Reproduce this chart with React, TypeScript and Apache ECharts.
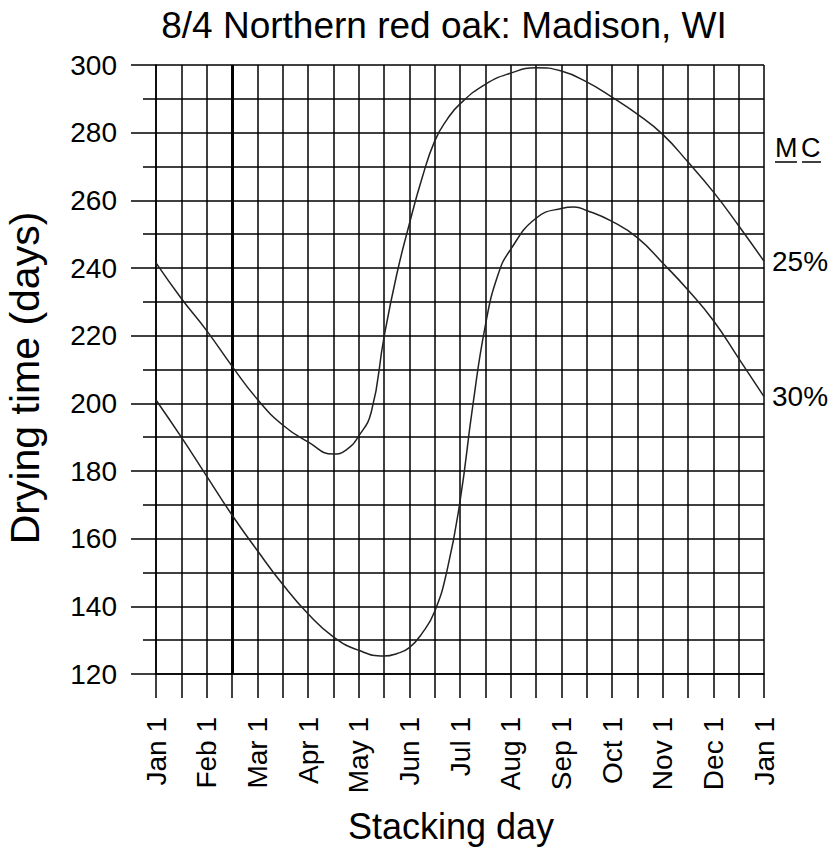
import React, { useEffect, useRef } from 'react';
import * as echarts from 'echarts';

const titleText = '8/4 Northern red oak: Madison, WI';
const xAxisTitle = 'Stacking day';
const yAxisTitle = 'Drying time (days)';
const monthLabels = ['Jan 1', 'Feb 1', 'Mar 1', 'Apr 1', 'May 1', 'Jun 1', 'Jul 1', 'Aug 1', 'Sep 1', 'Oct 1', 'Nov 1', 'Dec 1', 'Jan 1'];
const mcHeading = ['M', 'C'];
const seriesNames = ['25%', '30%'];
const markerMonth = 1.5;
const yMin = 120;
const yMax = 300;

// months elapsed since Jan 1 -> drying time (days)
const mc25Months = [0, 0.5, 1, 1.5, 2, 2.5, 3, 3.5, 3.75, 4, 4.25, 4.5, 4.75, 5, 5.25, 5.5, 5.75, 6, 6.5, 7, 7.5, 8, 8.5, 9, 9.5, 10, 10.5, 11, 11.5, 12];
const mc25Days = [241.5, 231, 221.5, 211, 201.2, 193.6, 188.6, 185, 186.2, 190.3, 197.5, 219.5, 238, 253, 266.5, 277.5, 284, 288.5, 294.3, 297.6, 299.2, 298.2, 295, 290.5, 285.5, 279.5, 271.3, 262.5, 252.5, 242];

const mc30Months = [0, 0.5, 1, 1.5, 2, 2.5, 3, 3.5, 4, 4.5, 4.75, 5, 5.25, 5.5, 5.75, 6, 6.25, 6.5, 6.75, 7, 7.5, 8, 8.25, 8.5, 9, 9.5, 10, 10.5, 11, 11.5, 12];
const mc30Days = [201, 190, 178.5, 167, 156.5, 146.5, 137.8, 131, 127, 125.3, 126, 127.8, 132, 138.5, 151, 171, 199, 223, 238, 245.5, 254.7, 257.6, 258, 257, 253.8, 249, 241.5, 233.5, 224.5, 213.3, 202];

const FONT = '"Liberation Sans", Arial, Helvetica, sans-serif';

export default function App() {
  const ref = useRef<HTMLDivElement>(null);

  useEffect(() => {
    document.body.style.margin = '0';
    if (!ref.current) return;
    const chart = echarts.init(ref.current, null, { renderer: 'svg' });

    const zip = (xs: number[], ys: number[]) => xs.map((x, i) => [x, ys[i]]);
    const gridLine = { color: '#000', width: 1.5 };

    const option: any = {
      animation: false,
      backgroundColor: '#fff',
      grid: { left: 156, right: 70, top: 65, bottom: 174, containLabel: false, outerBoundsMode: 'none' },
      xAxis: {
        type: 'value',
        min: 0,
        max: 12,
        interval: 0.5,
        axisLine: { show: true, lineStyle: gridLine },
        axisTick: { show: true, length: 24, lineStyle: gridLine },
        axisLabel: {
          rotate: 90,
          margin: 43,
          fontSize: 28,
          color: '#000',
          fontFamily: FONT,
          formatter: (v: number) => (Math.abs(v - Math.round(v)) < 1e-6 ? monthLabels[Math.round(v)] : ''),
        },
        splitLine: { show: true, lineStyle: gridLine },
      },
      yAxis: {
        type: 'value',
        min: yMin,
        max: yMax,
        interval: 20,
        axisLine: { show: true, lineStyle: gridLine },
        axisTick: { show: true, length: 25, lineStyle: gridLine },
        minorTick: { show: true, splitNumber: 2, length: 13, lineStyle: gridLine },
        splitLine: { show: true, lineStyle: gridLine },
        minorSplitLine: { show: true, lineStyle: gridLine },
        axisLabel: { margin: 39, fontSize: 28, color: '#000', fontFamily: FONT },
      },
      series: [
        {
          name: seriesNames[0],
          type: 'line',
          data: zip(mc25Months, mc25Days),
          smooth: 0.5,
          symbol: 'none',
          lineStyle: { color: '#222', width: 1.5 },
          endLabel: { show: true, formatter: seriesNames[0], distance: 8, fontSize: 28, color: '#000', fontFamily: FONT },
          markLine: {
            silent: true,
            symbol: 'none',
            label: { show: false },
            lineStyle: { color: '#000', width: 3, type: 'solid' },
            data: [{ xAxis: markerMonth }],
          },
          z: 5,
        },
        {
          name: seriesNames[1],
          type: 'line',
          data: zip(mc30Months, mc30Days),
          smooth: 0.5,
          symbol: 'none',
          lineStyle: { color: '#222', width: 1.5 },
          endLabel: { show: true, formatter: seriesNames[1], distance: 8, fontSize: 28, color: '#000', fontFamily: FONT },
          z: 5,
        },
      ],
      graphic: [
        {
          type: 'text',
          x: 444,
          y: 25,
          style: { text: titleText, font: `37px ${FONT}`, fill: '#000', textAlign: 'center', textVerticalAlign: 'middle' },
        },
        {
          type: 'text',
          x: 451,
          y: 826,
          style: { text: xAxisTitle, font: `36px ${FONT}`, fill: '#000', textAlign: 'center', textVerticalAlign: 'middle' },
        },
        {
          type: 'text',
          x: 25,
          y: 378,
          rotation: Math.PI / 2,
          style: { text: yAxisTitle, font: `41px ${FONT}`, fill: '#000', textAlign: 'center', textVerticalAlign: 'middle' },
        },
        {
          type: 'text',
          x: 775,
          y: 148,
          style: { text: mcHeading[0], font: `27px ${FONT}`, fill: '#000', textAlign: 'left', textVerticalAlign: 'middle' },
        },
        {
          type: 'text',
          x: 801,
          y: 148,
          style: { text: mcHeading[1], font: `27px ${FONT}`, fill: '#000', textAlign: 'left', textVerticalAlign: 'middle' },
        },
        { type: 'line', shape: { x1: 775, y1: 162, x2: 797, y2: 162 }, style: { stroke: '#000', lineWidth: 1.5 } },
        { type: 'line', shape: { x1: 802, y1: 162, x2: 821, y2: 162 }, style: { stroke: '#000', lineWidth: 1.5 } },
      ],
    };

    chart.setOption(option);
    return () => chart.dispose();
  }, []);

  return <div ref={ref} style={{ width: 834, height: 848 }} />;
}
